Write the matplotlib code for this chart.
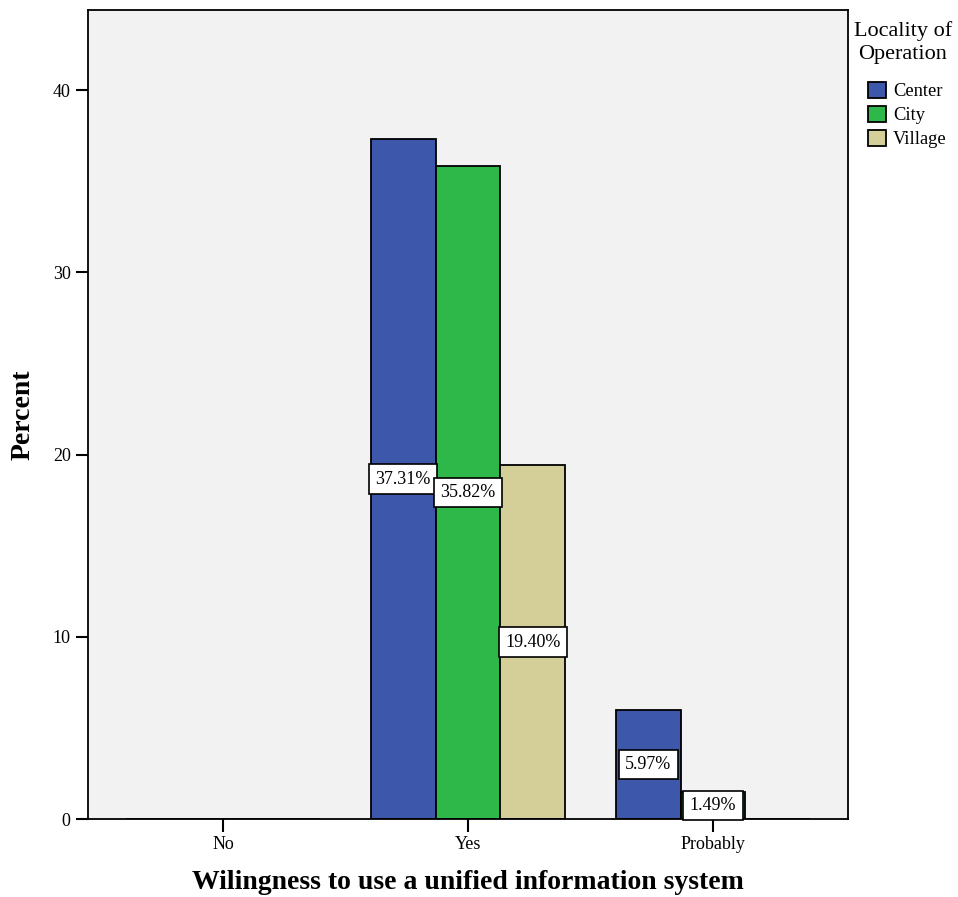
import matplotlib.pyplot as plt
import numpy as np

categories = ['No', 'Yes', 'Probably']
localities = ['Center', 'City', 'Village']
center = [0, 37.31, 5.97]
city = [0, 35.82, 1.49]
village = [0, 19.40, 0]
colors = ['#3D58AB', '#2EB84A', '#D4CF99']

plt.rcParams['font.family'] = ['Liberation Serif', 'DejaVu Serif']

fig = plt.figure(figsize=(9.58, 8.97), dpi=100)
ax = fig.add_axes([88/958, 78/897, 760/958, 809/897])
ax.set_facecolor('#F2F2F2')

x = np.arange(len(categories))
w = 0.265
series = [center, city, village]
for i, (vals, name, col) in enumerate(zip(series, localities, colors)):
    pos = x + (i - 1) * w
    ax.bar(pos, vals, width=w, color=col, edgecolor='black', linewidth=1.3, label=name, zorder=2)
    for p, v in zip(pos, vals):
        if v > 0:
            ax.text(p, v / 2, f'{v:.2f}%', ha='center', va='center', fontsize=13, zorder=4,
                    bbox=dict(boxstyle='square,pad=0.35', facecolor='white', edgecolor='black', linewidth=1.2))

ax.set_xlim(-0.551, 2.551)
ax.set_ylim(0, 44.39)
ax.set_xticks(x)
ax.set_xticklabels(categories, fontsize=13)
ax.set_yticks([0, 10, 20, 30, 40])
ax.tick_params(axis='both', labelsize=13, length=9, width=1.5, direction='out')
for s in ax.spines.values():
    s.set_linewidth(1.3)

ax.set_xlabel('Wilingness to use a unified information system', fontsize=20, fontweight='bold', labelpad=12)
ax.set_ylabel('Percent', fontsize=20, fontweight='bold', labelpad=12)

# legend title placed separately so it can be centred over the entries like SPSS does
fig.text(903/958, 1 - 21/897, 'Locality of\nOperation', ha='center', va='top', fontsize=16, linespacing=1.3)
handles, labels = ax.get_legend_handles_labels()
fig.legend(handles, labels, loc='upper left', bbox_to_anchor=(868/958, 1 - 82/897), frameon=False,
           fontsize=13.3, handlelength=0.95, handleheight=0.95, handletextpad=0.4,
           labelspacing=0.3, borderaxespad=0, borderpad=0)

fig.savefig('out.png', dpi=100)
